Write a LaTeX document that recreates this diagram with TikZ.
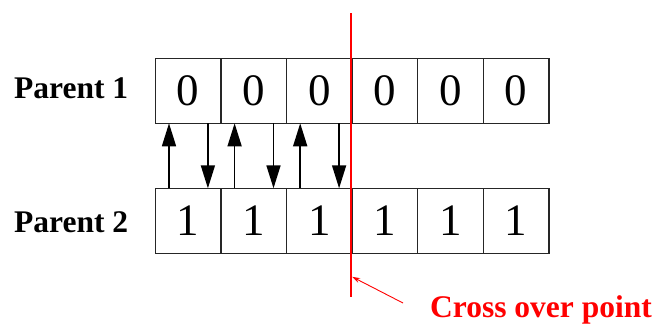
\documentclass[tikz,border=0pt]{standalone}
\usepackage{fontspec}
\setmainfont{Liberation Serif}
\usetikzlibrary{arrows.meta,calc}
\tikzset{
  cell/.style={draw=black!85,line width=1.3pt,minimum width=65.6pt,minimum height=65pt,
    inner sep=0pt,outer sep=0pt,font=\fontsize{45}{45}\selectfont,anchor=center},
  lbl/.style={font=\fontsize{31.5}{32}\selectfont\bfseries,anchor=base west,inner sep=0pt},
  swaparrow/.style={line width=1.6pt,draw=black,
    -{Triangle[length=23pt,width=14pt]}},
  crossline/.style={draw=red,line width=1.6pt},
  crossarrow/.style={draw=red,line width=0.9pt,-{Stealth[length=8pt,width=5pt]}}
}
\begin{document}
\begin{tikzpicture}[x=1pt,y=-1pt]
\useasboundingbox (0,0) rectangle (656,325);
% rows of cells
\foreach \i in {1,...,6}{
  \node[cell] (t\i) at ({155.3+65.6*(\i-0.5)},90.8) {0};
  \node[cell] (b\i) at ({155.3+65.6*(\i-0.5)},220.8) {1};
}
\node[lbl] (p1) at (14,98) {Parent 1};
\node[lbl] (p2) at (14,232) {Parent 2};
% swap arrows
\foreach \i in {1,2,3}{
  \draw[swaparrow] ($(b\i.north west)+(13.7,0)$) -- ($(t\i.south west)+(13.7,0)$);
  \draw[swaparrow] ($(t\i.south east)+(-13,0)$) -- ($(b\i.north east)+(-13,0)$);
}
% cross over line
\coordinate (cpT) at ($(t3.north east)+(-1,-45)$);
\coordinate (cpB) at ($(b3.south east)+(-1,44)$);
\draw[crossline] (cpT) -- (cpB);
\coordinate (cpA) at ($(b3.south east)+(0,23.5)$);
\node[font=\fontsize{31.5}{32}\selectfont\bfseries,text=red,anchor=base west,inner sep=0pt]
  (cop) at (430,317) {Cross over point};
\coordinate (arrS) at (403,303);
\draw[crossarrow] (arrS) -- (cpA);
\end{tikzpicture}
\end{document}
